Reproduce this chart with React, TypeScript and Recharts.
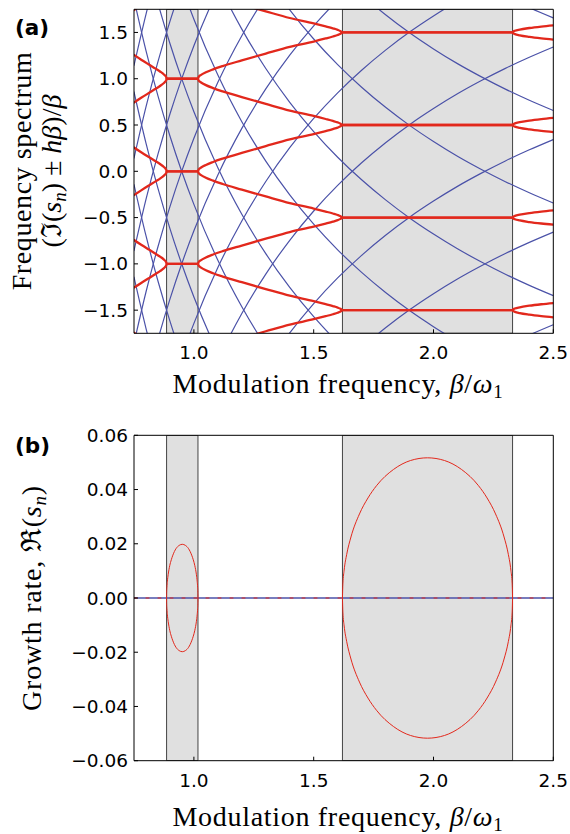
import { LineChart, Line, XAxis, YAxis, ReferenceArea } from "recharts";

const BLUE = "#4b52a8";
const RED = "#e2281c";
const BAND = "#e0e0e0";

// shared x axis
const xDomain = [0.75, 2.5];
const xTicks = [1.0, 1.5, 2.0, 2.5];

// grey instability tongues (beta/omega1)
const bandStart = [0.886, 1.62];
const bandEnd = [1.017, 2.33];

// (a) frequency spectrum
const specTicks = [-1.5, -1.0, -0.5, 0.0, 0.5, 1.0, 1.5];

// fast family (blue): one hyperbola repeated at integer shifts
const blueX = [0.75, 0.8, 0.85, 0.9, 0.95, 1.0, 1.1, 1.2, 1.3, 1.4, 1.5, 1.6, 1.7, 1.8, 1.9, 2.0, 2.1, 2.2, 2.3, 2.4, 2.5];
const blueShape = [8.857, 8.304, 7.815, 7.381, 6.993, 6.643, 6.039, 5.536, 5.11, 4.745, 4.429, 4.152, 3.908, 3.691, 3.496, 3.322, 3.163, 3.02, 2.888, 2.768, 2.657];
const blueFallingShifts = [-10, -9, -8, -7, -6, -5, -4, -3, -2, -1];
const blueRisingShifts = [1, 2, 3, 4, 5, 6, 7, 8, 9, 10];

// slow family (red): offset from the locked level, per region
const redLevels = [-2, -1, 0, 1, 2];
const redLeftX = [0.75, 0.78, 0.81, 0.84, 0.86, 0.875, 0.882, 0.885, 0.886];
const redLeftOff = [0.257, 0.206, 0.157, 0.109, 0.076, 0.046, 0.027, 0.014, 0];
const redMidX = [1.017, 1.02, 1.03, 1.05, 1.08, 1.12, 1.2, 1.3, 1.4, 1.5, 1.55, 1.58, 1.6, 1.612, 1.62];
const redMidOff = [0, 0.02, 0.041, 0.069, 0.101, 0.137, 0.198, 0.272, 0.344, 0.402, 0.435, 0.456, 0.472, 0.486, 0.5];
const redRightX = [2.33, 2.332, 2.34, 2.36, 2.4, 2.45, 2.5];
const redRightOff = [0.5, 0.508, 0.518, 0.531, 0.548, 0.564, 0.577];

// (b) growth rate
const growthTicks = [-0.06, -0.04, -0.02, 0.0, 0.02, 0.04, 0.06];
const lobe1X = [0.886, 0.8863, 0.8873, 0.8893, 0.8926, 0.8991, 0.9057, 0.9122, 0.9253, 0.9384, 0.9515, 0.9646, 0.9777, 0.9908, 0.9974, 1.0039, 1.0105, 1.0137, 1.0157, 1.0167, 1.017];
const lobe1Rate = [0, 0.002, 0.0039, 0.0062, 0.0086, 0.0119, 0.0141, 0.0158, 0.0182, 0.0194, 0.0198, 0.0194, 0.0182, 0.0158, 0.0141, 0.0119, 0.0086, 0.0062, 0.0039, 0.002, 0];
const lobe2X = [1.62, 1.6218, 1.6271, 1.6378, 1.6555, 1.691, 1.7265, 1.762, 1.833, 1.904, 1.975, 2.046, 2.117, 2.188, 2.2235, 2.259, 2.2945, 2.3123, 2.3229, 2.3283, 2.33];
const lobe2Rate = [0, 0.0052, 0.0103, 0.0161, 0.0225, 0.031, 0.0369, 0.0414, 0.0474, 0.0507, 0.0517, 0.0507, 0.0474, 0.0414, 0.0369, 0.031, 0.0225, 0.0161, 0.0103, 0.0052, 0];
const stableX = [0.75, 2.5];
const stableRate = [0, 0];

type Pt = { x: number; y: number };

const toPts = (xs: number[], ys: number[], shift = 0, sign = 1): Pt[] =>
  xs.map((x, i) => ({ x, y: shift + sign * ys[i] }));

function redBranch(level: number, sign: number): Pt[] {
  return [
    ...toPts(redLeftX, redLeftOff, level, sign),
    ...toPts(redMidX, redMidOff, level, sign),
    ...toPts(redRightX, redRightOff, level, sign),
  ];
}

const tickFont = { fill: "#000", fontSize: 18.5, fontFamily: "DejaVu Sans" };
const minus = (s: string) => s.replace("-", "\u2212");

function Frame({ yDomain, yTicks, digits }: { yDomain: number[]; yTicks: number[]; digits: number }) {
  return [
    <XAxis key="xb" xAxisId="b" dataKey="x" type="number" domain={xDomain} allowDataOverflow ticks={xTicks}
      interval={0} height={40} tickSize={-4} tickMargin={17} tick={tickFont}
      tickFormatter={(v: number) => v.toFixed(1)} axisLine={{ stroke: "#000" }} tickLine={{ stroke: "#000" }} />,
    <XAxis key="xt" xAxisId="t" orientation="top" dataKey="x" type="number" domain={xDomain} allowDataOverflow
      ticks={xTicks} interval={0} height={1} tickSize={-4} tick={false} axisLine={{ stroke: "#000" }} tickLine={{ stroke: "#000" }} />,
    <YAxis key="yl" yAxisId="l" type="number" domain={yDomain} allowDataOverflow ticks={yTicks} interval={0}
      width={134} tickSize={-4} tickMargin={10} tick={tickFont}
      tickFormatter={(v: number) => minus(v.toFixed(digits))} axisLine={{ stroke: "#000" }} tickLine={{ stroke: "#000" }} />,
    <YAxis key="yr" yAxisId="r" orientation="right" type="number" domain={yDomain} allowDataOverflow ticks={yTicks}
      interval={0} width={1} tickSize={-4} tick={false} axisLine={{ stroke: "#000" }} tickLine={{ stroke: "#000" }} />,
  ];
}

function Bands() {
  return bandStart.map((x1, i) => (
    <ReferenceArea key={"band" + i} xAxisId="b" yAxisId="l" x1={x1} x2={bandEnd[i]} fill={BAND} fillOpacity={1}
      stroke="#444" strokeWidth={1} ifOverflow="hidden" />
  ));
}

function Curve({ data, color, width, id, dash }: { data: Pt[]; color: string; width: number; id: string; dash?: string }) {
  return (
    <Line key={id} xAxisId="b" yAxisId="l" data={data} dataKey="y" type="monotone" stroke={color}
      strokeWidth={width} strokeDasharray={dash} dot={false} activeDot={false} isAnimationActive={false}
      strokeLinecap="round" />
  );
}

export default function App() {
  const blueCurves = [
    ...blueFallingShifts.map((n) => toPts(blueX, blueShape, n, 1)),
    ...blueRisingShifts.map((n) => toPts(blueX, blueShape, n, -1)),
  ];
  const redCurves = redLevels.flatMap((n) => [redBranch(n, 1), redBranch(n, -1)]);
  const lobes = [
    toPts(lobe1X, lobe1Rate, 0, 1),
    toPts(lobe1X, lobe1Rate, 0, -1),
    toPts(lobe2X, lobe2Rate, 0, 1),
    toPts(lobe2X, lobe2Rate, 0, -1),
  ];
  const serif = "'Liberation Serif', 'DejaVu Serif', serif";

  return (
    <div style={{ position: "absolute", left: 0, top: 0, width: 570, height: 834, background: "#fff" }}>
      <div style={{ position: "absolute", left: 0, top: 0 }}>
        <LineChart width={570} height={400} margin={{ top: 8.3, right: 15.7, bottom: 26.7, left: 0 }}>
          {Frame({ yDomain: [-1.75, 1.75], yTicks: specTicks, digits: 1 })}
          {Bands()}
          {blueCurves.map((d, i) => Curve({ data: d, color: BLUE, width: 1.2, id: "bl" + i }))}
          {redCurves.map((d, i) => Curve({ data: d, color: RED, width: 2.3, id: "rd" + i }))}
        </LineChart>
      </div>
      <div style={{ position: "absolute", left: 0, top: 420 }}>
        <LineChart width={570} height={414} margin={{ top: 14.3, right: 15.7, bottom: 33.3, left: 0 }}>
          {Frame({ yDomain: [-0.06, 0.06], yTicks: growthTicks, digits: 2 })}
          {Bands()}
          {Curve({ data: toPts(stableX, stableRate), color: BLUE, width: 1.3, id: "z1" })}
          {Curve({ data: toPts(stableX, stableRate), color: RED, width: 1, id: "z0", dash: "3 9" })}
          {lobes.map((d, i) => Curve({ data: d, color: RED, width: 1, id: "lb" + i }))}
        </LineChart>
      </div>
      <svg width={570} height={834} style={{ position: "absolute", left: 0, top: 0, pointerEvents: "none" }}>
        <text x={15} y={35} fontFamily="DejaVu Sans" fontWeight="bold" fontSize={21.5}>(a)</text>
        <text x={15} y={453} fontFamily="DejaVu Sans" fontWeight="bold" fontSize={21.5}>(b)</text>
        <g fontFamily={serif} fontSize={28} fill="#000">
          <text transform="translate(31,171) rotate(-90)" textAnchor="middle" letterSpacing={0.6}>Frequency spectrum</text>
          <text transform="translate(61,171) rotate(-90)" textAnchor="middle">
            (ℑ(<tspan fontStyle="italic">s</tspan>
            <tspan fontStyle="italic" fontSize={19} dy={5}>n</tspan>
            <tspan dy={-5}>) ± </tspan>
            <tspan fontStyle="italic">hβ</tspan>)/<tspan fontStyle="italic">β</tspan>
          </text>
          <text transform="translate(41,598) rotate(-90)" textAnchor="middle" letterSpacing={0.8}>
            Growth rate, ℜ(<tspan fontStyle="italic">s</tspan>
            <tspan fontStyle="italic" fontSize={19} dy={5}>n</tspan>
            <tspan dy={-5}>)</tspan>
          </text>
          <text x={338} y={393} textAnchor="middle" letterSpacing={0.7}>
            Modulation frequency, <tspan fontStyle="italic">β</tspan>/<tspan fontStyle="italic">ω</tspan>
            <tspan fontSize={19} dy={5}>1</tspan>
          </text>
          <text x={338} y={826} textAnchor="middle" letterSpacing={0.7}>
            Modulation frequency, <tspan fontStyle="italic">β</tspan>/<tspan fontStyle="italic">ω</tspan>
            <tspan fontSize={19} dy={5}>1</tspan>
          </text>
        </g>
      </svg>
    </div>
  );
}
